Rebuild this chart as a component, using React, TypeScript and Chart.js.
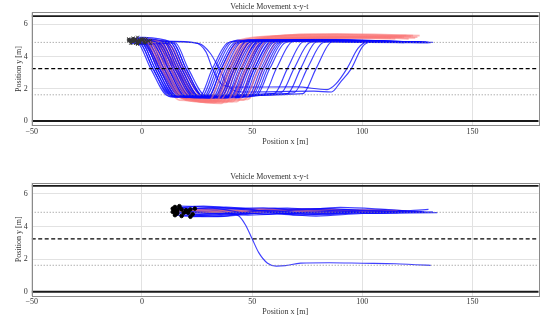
import React, { useEffect, useRef } from 'react';
import { Chart, registerables } from 'chart.js';

Chart.register(...registerables);

const TITLE = 'Vehicle Movement x-y-t';
const X_LABEL = 'Position x [m]';
const Y_LABEL = 'Position y [m]';
const X_TICKS = [-50, 0, 50, 100, 150];
const Y_TICKS = [0, 2, 4, 6];
const X_RANGE = [-50, 180];
const LANE_EDGES = [0, 6.5];
const LANE_DIVIDER = [3.25];
const LANE_CENTERS = [1.625, 4.875];

// Top panel: blue trajectories (flat x, y pairs)
const topBlueTracks: number[][] = [
  [-5, 5.0, -2, 4.9, 4, 3.25, 12, 1.55, 26, 1.5, 32, 3.25, 39, 4.85, 47, 4.98, 108, 4.9],
  [-4, 4.9, -1, 4.85, 5, 3.25, 13, 1.6, 28, 1.5, 34, 3.25, 41, 4.9, 49, 5.0, 112, 4.88],
  [-6, 5.1, 0, 4.9, 6, 3.25, 14, 1.5, 30, 1.45, 36, 3.25, 43, 4.85, 51, 4.95, 115, 4.9],
  [-3, 4.8, 1, 4.8, 7, 3.25, 15, 1.55, 27, 1.5, 33, 3.25, 40, 4.9, 48, 5.05, 104, 4.92],
  [-2, 5.0, 2, 4.85, 8, 3.25, 16, 1.5, 32, 1.45, 38, 3.25, 45, 4.9, 53, 5.0, 118, 4.9],
  [-4, 5.15, 3, 4.9, 9, 3.25, 17, 1.6, 29, 1.55, 35, 3.25, 42, 4.85, 50, 4.95, 110, 4.87],
  [-1, 4.95, 4, 4.85, 10, 3.25, 18, 1.5, 34, 1.5, 40, 3.25, 47, 4.9, 55, 5.02, 121, 4.9],
  [-5, 4.85, 5, 4.8, 11, 3.25, 19, 1.55, 31, 1.45, 37, 3.25, 44, 4.85, 52, 4.97, 113, 4.92],
  [0, 5.05, 6, 4.9, 12, 3.25, 20, 1.5, 36, 1.5, 42, 3.25, 49, 4.9, 57, 5.0, 124, 4.88],
  [-3, 5.1, 7, 4.85, 13, 3.25, 21, 1.6, 33, 1.5, 39, 3.25, 46, 4.85, 54, 5.05, 116, 4.9],
  [-2, 4.75, 8, 4.8, 14, 3.25, 22, 1.45, 38, 1.45, 44, 3.25, 51, 4.9, 59, 4.98, 126, 4.9],
  [1, 4.9, 9, 4.85, 15, 3.25, 23, 1.55, 35, 1.5, 41, 3.25, 48, 4.85, 56, 4.95, 119, 4.86],
  [-4, 5.0, 10, 4.9, 16, 3.25, 24, 1.5, 40, 1.5, 46, 3.25, 53, 4.9, 61, 5.02, 127, 4.9],
  [2, 5.1, 11, 4.85, 17, 3.25, 25, 1.55, 37, 1.45, 43, 3.25, 50, 4.85, 58, 4.96, 114, 4.9],
  [-1, 4.85, 12, 4.8, 18, 3.25, 26, 1.5, 42, 1.5, 48, 3.25, 55, 4.9, 63, 5.0, 122, 4.9],
  [3, 4.95, 13, 4.85, 19, 3.25, 27, 1.6, 39, 1.5, 45, 3.25, 52, 4.85, 60, 5.04, 117, 4.88],
  [0, 5.0, 14, 4.9, 20, 3.25, 28, 1.5, 44, 1.45, 50, 3.25, 57, 4.9, 65, 4.97, 129, 4.9],
  [4, 4.8, 15, 4.85, 21, 3.25, 29, 1.55, 41, 1.5, 47, 3.25, 54, 4.85, 62, 5.0, 120, 4.9],
  [-5, 5.05, 2, 4.9, 8, 3.25, 16, 1.55, 46, 1.5, 52, 3.25, 59, 4.85, 67, 4.98, 123, 4.9],
  [-2, 4.9, 6, 4.85, 12, 3.25, 20, 1.5, 43, 1.55, 49, 3.25, 56, 4.9, 64, 5.02, 111, 4.88],
  [-6, 5.0, 0, 4.85, 6, 3.25, 14, 1.6, 48, 1.5, 54, 3.25, 61, 4.85, 69, 4.96, 125, 4.9],
  [1, 5.1, 9, 4.9, 15, 3.25, 23, 1.5, 45, 1.45, 51, 3.25, 58, 4.9, 66, 5.0, 118, 4.9],
  [-3, 4.95, 4, 4.85, 10, 3.25, 18, 1.55, 49, 1.5, 55, 3.25, 62, 4.85, 70, 4.99, 128, 4.88],
  [2, 4.85, 11, 4.8, 17, 3.25, 25, 1.5, 47, 1.55, 53, 3.25, 60, 4.9, 68, 5.03, 121, 4.9],
  [-1, 5.0, 7, 4.9, 13, 3.25, 21, 1.5, 52, 1.6, 58, 3.25, 65, 4.85, 73, 4.97, 126, 4.9],
  [-4, 4.9, 3, 4.85, 9, 3.25, 17, 1.6, 60, 1.7, 66, 3.25, 73, 4.9, 81, 5.0, 124, 4.9],
  [0, 5.05, 8, 4.85, 14, 3.25, 22, 1.55, 63, 1.75, 69, 3.25, 76, 4.85, 84, 4.98, 127, 4.88],
  [-2, 4.8, 5, 4.8, 11, 3.25, 19, 1.6, 66, 1.7, 72, 3.25, 79, 4.9, 87, 5.0, 122, 4.9],
  [3, 5.0, 10, 4.9, 16, 3.25, 24, 1.5, 69, 1.75, 75, 3.25, 82, 4.85, 90, 4.97, 130, 4.9],
  [1, 4.95, 12, 4.85, 18, 3.25, 26, 1.55, 73, 1.7, 79, 3.25, 86, 4.9, 94, 5.0, 125, 4.88],
  [-3, 5.0, 10, 4.92, 24, 4.85, 29, 4.3, 32, 3.25, 36, 2.3, 42, 2.1, 70, 2.12, 84, 1.95, 88, 2.3, 93, 3.25, 98, 4.5, 102, 4.88, 131, 4.85],
  [-1, 4.9, 10, 4.95, 26, 4.8, 31, 4.2, 35, 3.25, 39, 2.2, 45, 1.8, 78, 1.85, 86, 1.8, 90, 2.4, 95, 3.25, 100, 4.6, 104, 4.9, 129, 4.9],
  [-5, 4.8, 1, 4.85, 7, 3.25, 15, 1.5, 39, 1.5, 45, 3.25, 52, 4.9, 60, 5.0, 115, 4.9],
  [-2, 5.2, 13, 4.9, 19, 3.25, 27, 1.55, 30, 1.5, 36, 3.25, 43, 4.85, 51, 4.96, 109, 4.9],
  [-6, 4.95, -1, 4.85, 5, 3.25, 13, 1.5, 36, 1.5, 42, 3.25, 49, 4.9, 57, 5.0, 120, 4.88],
  [4, 5.0, 14, 4.85, 20, 3.25, 28, 1.5, 51, 1.55, 57, 3.25, 64, 4.9, 72, 5.0, 132, 4.88],
  [-4, 5.05, 1, 4.88, 9, 3.25, 19, 1.4, 33, 1.45, 40, 3.25, 47, 4.88, 56, 5.08, 118, 4.93],
  [-2, 4.88, 4, 4.82, 12, 3.25, 22, 1.42, 35, 1.55, 42, 3.25, 49, 4.92, 58, 5.1, 123, 4.88],
  [0, 5.12, 6, 4.9, 15, 3.25, 25, 1.45, 38, 1.4, 45, 3.25, 52, 4.88, 61, 5.06, 116, 4.9],
  [-5, 4.92, 2, 4.85, 10, 3.25, 20, 1.38, 41, 1.48, 48, 3.25, 55, 4.9, 64, 5.12, 127, 4.9],
  [-3, 5.02, 5, 4.9, 13, 3.25, 23, 1.45, 44, 1.5, 51, 3.25, 58, 4.86, 67, 5.05, 121, 4.88],
  [2, 4.95, 8, 4.86, 16, 3.25, 26, 1.42, 40, 1.44, 47, 3.25, 54, 4.9, 63, 5.08, 114, 4.92],
  [-6, 5.05, 0, 4.9, 8, 3.25, 18, 1.45, 50, 1.55, 56, 3.25, 63, 4.88, 71, 5.02, 130, 4.86],
  [1, 4.82, 7, 4.82, 15, 3.25, 25, 1.5, 55, 1.6, 61, 3.25, 68, 4.9, 76, 5.04, 126, 4.9],
];

// Top panel: red trajectories
const topRedTracks: number[][] = [
  [-4, 5.0, 2, 4.9, 9, 3.25, 18, 1.4, 30, 1.2, 37, 3.25, 44, 5.0, 60, 5.25, 118, 5.2],
  [-3, 5.05, 4, 4.85, 11, 3.25, 20, 1.3, 33, 1.15, 40, 3.25, 47, 5.05, 70, 5.3, 122, 5.25],
  [-5, 4.95, 6, 4.85, 13, 3.25, 22, 1.35, 35, 1.2, 42, 3.25, 49, 5.0, 80, 5.15, 115, 5.1],
  [-2, 5.0, 8, 4.9, 15, 3.25, 24, 1.25, 38, 1.15, 45, 3.25, 52, 5.1, 90, 5.35, 125, 5.2],
  [-4, 5.1, 10, 4.9, 17, 3.25, 26, 1.3, 40, 1.25, 47, 3.25, 54, 5.05, 100, 5.2, 120, 5.3],
  [-1, 4.9, 12, 4.8, 19, 3.25, 28, 1.35, 43, 1.2, 50, 3.25, 57, 5.05, 85, 5.25, 124, 5.15],
  [-3, 5.0, 3, 4.85, 10, 3.25, 19, 1.4, 46, 1.3, 53, 3.25, 60, 5.1, 95, 5.2, 117, 5.25],
  [-5, 5.05, 7, 4.9, 14, 3.25, 23, 1.3, 32, 1.2, 39, 3.25, 46, 5.0, 110, 5.15, 121, 5.1],
  [-2, 4.95, 9, 4.85, 16, 3.25, 25, 1.25, 36, 1.1, 43, 3.25, 50, 4.95, 75, 5.35, 123, 5.3],
  [-3, 5.0, 5, 4.9, 12, 3.25, 21, 1.35, 48, 1.35, 55, 3.25, 62, 5.05, 105, 5.2, 119, 5.2],
  [0, 5.0, 11, 4.9, 18, 3.25, 27, 1.3, 41, 1.2, 48, 3.25, 55, 5.1, 88, 5.4, 126, 5.3],
  [-1, 5.05, 1, 4.9, 8, 3.25, 17, 1.3, 34, 1.25, 41, 3.25, 48, 5.0, 78, 5.2, 113, 5.15],
];

// Bottom panel: blue trajectories
const bottomBlueTracks: number[][] = [
  [15, 5.0, 30, 5.15, 50, 4.8, 75, 5.05, 100, 4.88, 120, 4.95],
  [16, 4.8, 35, 4.62, 55, 4.98, 80, 4.8, 105, 4.98, 128, 4.9],
  [14, 5.1, 28, 5.25, 45, 5.05, 70, 4.85, 95, 4.98, 115, 4.9],
  [20, 4.9, 40, 4.75, 60, 4.98, 85, 5.1, 110, 4.9, 130, 5.05],
  [22, 5.05, 38, 5.2, 58, 4.9, 79, 4.64, 100, 4.8, 134, 4.85],
  [15, 4.7, 32, 4.6, 52, 4.8, 72, 4.98, 90, 5.18, 110, 5.05, 125, 4.9],
  [21, 4.95, 36, 5.05, 55, 5.15, 78, 4.88, 102, 4.82, 132, 4.9],
  [17, 5.15, 33, 5.0, 48, 4.7, 68, 4.85, 92, 5.02, 118, 4.95],
  [23, 4.75, 42, 4.82, 62, 5.08, 86, 4.92, 108, 4.82, 122, 4.9],
  [16, 5.0, 30, 4.88, 46, 5.02, 66, 5.14, 88, 4.88, 112, 4.88],
  [19, 4.85, 37, 4.98, 57, 4.75, 77, 4.9, 98, 5.02, 127, 4.92],
  [14, 4.9, 26, 4.75, 44, 4.9, 64, 5.02, 84, 4.82, 106, 4.92],
  [24, 5.1, 44, 5.08, 64, 4.82, 82, 4.72, 104, 4.9, 129, 4.88],
  [18, 4.65, 34, 4.72, 53, 4.98, 74, 5.08, 96, 4.95, 116, 4.85],
  [15, 5.2, 29, 5.05, 47, 4.92, 67, 4.78, 89, 4.9, 111, 5.02],
  [20, 5.0, 39, 4.88, 59, 4.98, 80, 5.08, 101, 4.95, 124, 4.9],
  [22, 4.6, 36, 4.68, 54, 4.88, 70, 4.7, 94, 4.85, 119, 4.94],
  [17, 5.25, 31, 5.2, 49, 5.1, 71, 5.0, 93, 4.92, 114, 4.98],
  [16, 4.9, 30, 4.85, 40, 4.8, 44, 4.65, 47, 4.1, 50, 3.25, 53, 2.4, 57, 1.75, 61, 1.57, 65, 1.6, 72, 1.76, 85, 1.78, 100, 1.75, 115, 1.72, 124, 1.66, 131, 1.62],
];

// Bottom panel: red trajectories
const bottomRedTracks: number[][] = [
  [15, 4.95, 30, 5.05, 50, 4.9, 75, 5.0, 100, 4.95, 116, 4.95],
  [18, 5.05, 34, 4.95, 54, 5.05, 78, 4.9, 104, 5.0, 121, 4.95],
  [21, 4.85, 38, 4.9, 58, 5.0, 82, 5.05, 108, 4.9, 126, 4.9],
];

const FONT = '"Liberation Serif", "DejaVu Serif", serif';
const TEXT = '#333';
const GRID = '#e2e2e2';

const pts = (flat: number[]) => {
  const out: { x: number; y: number }[] = [];
  for (let i = 0; i + 1 < flat.length; i += 2) out.push({ x: flat[i], y: flat[i + 1] });
  return out;
};

const hLine = (y: number) => [
  { x: X_RANGE[0], y },
  { x: X_RANGE[1], y },
];

const framePlugin = {
  id: 'frame',
  afterDatasetsDraw(chart: any) {
    const { ctx, chartArea } = chart;
    ctx.save();
    ctx.strokeStyle = '#8a8a8a';
    ctx.lineWidth = 1;
    ctx.strokeRect(
      Math.round(chartArea.left) + 0.5,
      Math.round(chartArea.top) + 0.5,
      Math.round(chartArea.right - chartArea.left),
      Math.round(chartArea.bottom - chartArea.top)
    );
    ctx.restore();
  },
};

type PanelOpts = {
  blue: number[][];
  red: number[][];
  yMin: number;
  yMax: number;
  titlePadTop: number;
  titlePadBottom: number;
  xAxisHeight: number;
  xTitlePadBottom: number;
  xTickPad: number;
  markerStyle: string;
  markerRadius: number;
  markerColor: string;
};

function buildConfig(p: PanelOpts): any {
  const datasets: any[] = [];
  datasets.push({
    data: p.blue.concat(p.red).map((t) => ({ x: t[0], y: t[1] })),
    showLine: false,
    pointStyle: p.markerStyle,
    pointRadius: p.markerRadius,
    pointBorderWidth: 1,
    pointBorderColor: p.markerColor,
    pointBackgroundColor: p.markerColor,
    order: 0,
  });
  LANE_EDGES.forEach((y) =>
    datasets.push({ data: hLine(y), borderColor: '#1a1a1a', borderWidth: 1.8, pointRadius: 0, order: 1 })
  );
  LANE_DIVIDER.forEach((y) =>
    datasets.push({ data: hLine(y), borderColor: '#000', borderWidth: 1.3, borderDash: [4, 2.5], pointRadius: 0, order: 1 })
  );
  LANE_CENTERS.forEach((y) =>
    datasets.push({ data: hLine(y), borderColor: '#8c8c8c', borderWidth: 1, borderDash: [1, 2], pointRadius: 0, order: 1 })
  );
  const blueDs = (t: number[]) => ({
    data: pts(t),
    borderColor: 'rgba(10,10,255,0.78)',
    borderWidth: 1.15,
    pointRadius: 0,
    cubicInterpolationMode: 'monotone',
    order: 2,
  });
  const redDs = (t: number[]) => ({
    data: pts(t),
    borderColor: 'rgba(250,120,120,0.55)',
    borderWidth: 1.8,
    pointRadius: 0,
    cubicInterpolationMode: 'monotone',
    order: 2,
  });
  // interleave red tracks among the blue ones (some blue above, some below)
  let r = 0;
  p.blue.forEach((t, i) => {
    datasets.push(blueDs(t));
    if (i % 3 === 2 && r < p.red.length) {
      datasets.push(redDs(p.red[r]));
      r++;
    }
  });
  for (; r < p.red.length; r++) datasets.push(redDs(p.red[r]));

  return {
    type: 'line',
    data: { datasets },
    plugins: [framePlugin],
    options: {
      animation: false,
      responsive: false,
      events: [],
      layout: { padding: { left: 0, right: 5.3, top: 0, bottom: 0 } },
      plugins: {
        legend: { display: false },
        tooltip: { enabled: false },
        title: {
          display: true,
          text: TITLE,
          color: TEXT,
          font: { family: FONT, size: 8, weight: 'normal' },
          padding: { top: p.titlePadTop, bottom: p.titlePadBottom },
        },
      },
      scales: {
        x: {
          type: 'linear',
          min: X_RANGE[0],
          max: X_RANGE[1],
          afterBuildTicks: (s: any) => {
            s.ticks = X_TICKS.map((v) => ({ value: v }));
          },
          afterFit: (s: any) => {
            s.height = p.xAxisHeight;
          },
          grid: { color: GRID, lineWidth: 1, drawTicks: false },
          border: { display: false },
          ticks: {
            padding: p.xTickPad,
            color: TEXT,
            font: { family: FONT, size: 8 },
            maxRotation: 0,
            callback: (v: any) => (v < 0 ? '\u2212' + Math.abs(v) : String(v)),
          },
          title: {
            display: true,
            text: X_LABEL,
            color: TEXT,
            font: { family: FONT, size: 8 },
            padding: { top: 0, bottom: p.xTitlePadBottom },
          },
        },
        y: {
          type: 'linear',
          min: p.yMin,
          max: p.yMax,
          afterBuildTicks: (s: any) => {
            s.ticks = Y_TICKS.map((v) => ({ value: v }));
          },
          afterFit: (s: any) => {
            s.width = 31.7;
          },
          grid: { color: GRID, lineWidth: 1, drawTicks: false },
          border: { display: false },
          ticks: {
            padding: 4,
            color: TEXT,
            font: { family: FONT, size: 8 },
          },
          title: {
            display: true,
            text: Y_LABEL,
            color: TEXT,
            font: { family: FONT, size: 8 },
            padding: { top: 14, bottom: 0 },
          },
        },
      },
    },
  };
}

export default function App() {
  const topRef = useRef<HTMLCanvasElement | null>(null);
  const botRef = useRef<HTMLCanvasElement | null>(null);

  useEffect(() => {
    const charts: Chart[] = [];
    if (topRef.current) {
      charts.push(
        new Chart(
          topRef.current,
          buildConfig({
            blue: topBlueTracks,
            red: topRedTracks,
            yMin: -0.29,
            yMax: 6.74,
            titlePadTop: 1.7,
            titlePadBottom: 1,
            xAxisHeight: 34.3,
            xTitlePadBottom: 13.5,
            xTickPad: 1.5,
            markerStyle: 'crossRot',
            markerRadius: 2,
            markerColor: '#333',
          })
        )
      );
    }
    if (botRef.current) {
      charts.push(
        new Chart(
          botRef.current,
          buildConfig({
            blue: bottomBlueTracks,
            red: bottomRedTracks,
            yMin: -0.26,
            yMax: 6.69,
            titlePadTop: 11.9,
            titlePadBottom: 1.2,
            xAxisHeight: 24,
            xTitlePadBottom: 3.5,
            xTickPad: 1,
            markerStyle: 'circle',
            markerRadius: 1.8,
            markerColor: '#000',
          })
        )
      );
    }
    return () => charts.forEach((c) => c.destroy());
  }, []);

  return (
    <div style={{ position: 'fixed', left: 0, top: 0, width: 544, height: 320, background: '#fff' }}>
      <canvas ref={topRef} width={544} height={160} style={{ display: 'block' }} />
      <canvas ref={botRef} width={544} height={160} style={{ display: 'block' }} />
    </div>
  );
}
